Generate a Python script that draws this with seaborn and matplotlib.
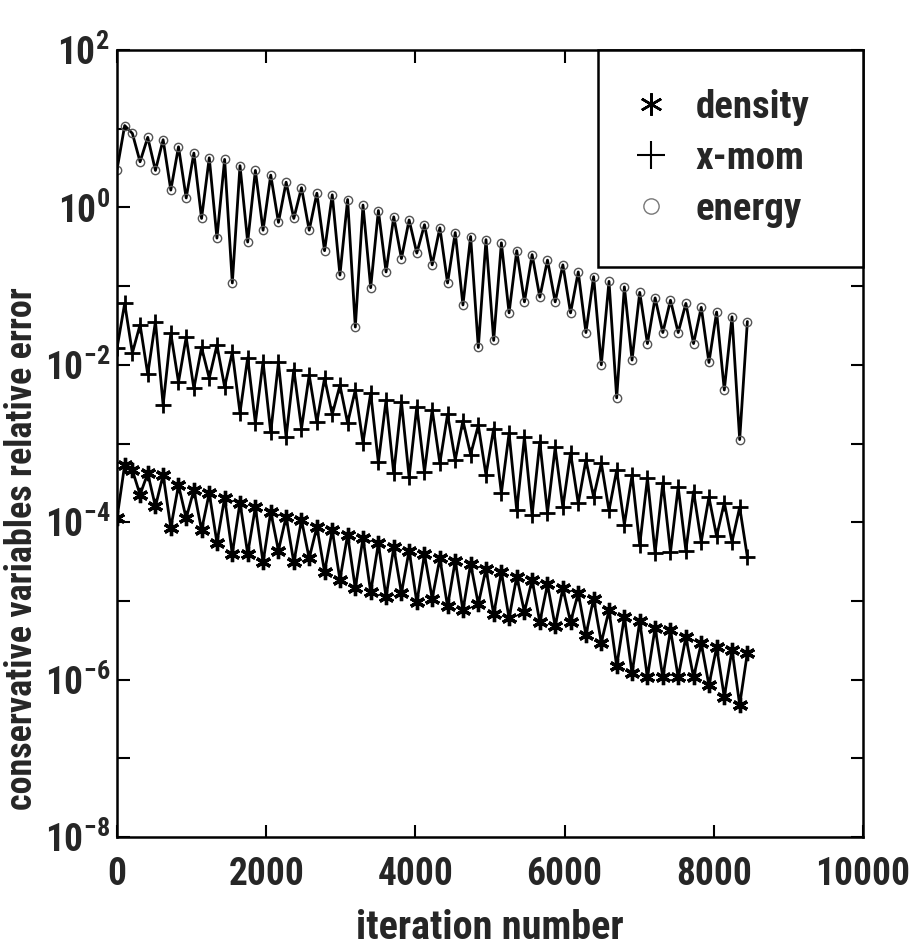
import numpy as np
import matplotlib
matplotlib.use("Agg")
import matplotlib.pyplot as plt
from matplotlib import font_manager
from matplotlib.lines import Line2D
import seaborn as sns

# ---------------- data (log10 of relative error) -------------
n_samples = 83
iterations = np.linspace(0, 8450, n_samples)  # output iterations (uniform interval)

energy_log10 = [
    0.48, 1.04, 0.94, 0.58, 0.89, 0.47, 0.86, 0.22, 0.77, 0.12,
    0.69, -0.14, 0.63, -0.39, 0.61, -0.96, 0.53, -0.44, 0.47, -0.29,
    0.41, -0.19, 0.32, -0.14, 0.25, -0.29, 0.18, -0.55, 0.16, -0.86,
    0.10, -1.52, 0.03, -1.02, -0.04, -0.82, -0.12, -0.65, -0.16, -0.58,
    -0.22, -0.73, -0.26, -0.96, -0.32, -1.24, -0.37, -1.78, -0.41, -1.69,
    -0.45, -1.34, -0.55, -1.20, -0.60, -1.14, -0.67, -1.20, -0.73, -1.34,
    -0.82, -1.59, -0.88, -2.00, -0.94, -2.42, -1.01, -1.94, -1.08, -1.73,
    -1.15, -1.59, -1.18, -1.59, -1.22, -1.73, -1.27, -1.97, -1.33, -2.32,
    -1.39, -2.95, -1.45,
]

xmom_log10 = [
    -1.79, -1.22, -1.85, -1.49, -2.12, -1.45, -2.51, -1.60, -2.22, -1.65,
    -2.30, -1.78, -2.17, -1.75, -2.28, -1.84, -2.61, -1.91, -2.74, -1.96,
    -2.86, -1.97, -2.92, -2.06, -2.81, -2.13, -2.73, -2.17, -2.63, -2.26,
    -2.74, -2.32, -2.99, -2.36, -3.24, -2.45, -3.38, -2.47, -3.43, -2.53,
    -3.36, -2.57, -3.25, -2.63, -3.21, -2.71, -3.14, -2.77, -3.40, -2.81,
    -3.63, -2.87, -3.85, -2.92, -3.91, -2.98, -3.88, -3.05, -3.81, -3.12,
    -3.76, -3.21, -3.68, -3.25, -3.85, -3.34, -4.03, -3.40, -4.29, -3.44,
    -4.39, -3.50, -4.38, -3.55, -4.36, -3.61, -4.25, -3.68, -4.18, -3.75,
    -4.25, -3.81, -4.44,
]

density_log10 = [
    -3.95, -3.27, -3.34, -3.65, -3.38, -3.80, -3.40, -4.07, -3.53, -3.95,
    -3.59, -4.10, -3.63, -4.26, -3.69, -4.40, -3.75, -4.40, -3.81, -4.51,
    -3.87, -4.36, -3.93, -4.51, -3.97, -4.46, -4.06, -4.63, -4.10, -4.73,
    -4.16, -4.84, -4.20, -4.89, -4.27, -4.95, -4.32, -4.90, -4.36, -5.02,
    -4.41, -4.97, -4.46, -5.07, -4.49, -5.12, -4.53, -5.04, -4.59, -5.17,
    -4.63, -5.22, -4.69, -5.14, -4.73, -5.27, -4.79, -5.32, -4.84, -5.27,
    -4.90, -5.43, -4.97, -5.53, -5.12, -5.83, -5.20, -5.92, -5.26, -5.97,
    -5.34, -5.97, -5.37, -5.97, -5.46, -5.97, -5.54, -6.07, -5.59, -6.22,
    -5.62, -6.32, -5.66,
]

series_names = ["density", "x-mom", "energy"]
x_ticks = [0, 2000, 4000, 6000, 8000, 10000]
y_exponents = list(range(-8, 3))
y_label_exponents = [-8, -6, -4, -2, 0, 2]

density = 10.0 ** np.array(density_log10)
xmom = 10.0 ** np.array(xmom_log10)
energy = 10.0 ** np.array(energy_log10)

# ---------------- style -------------
sns.set_style("ticks")
available = {f.name for f in font_manager.fontManager.ttflist}
family = None
for cand in ["Liberation Sans Narrow", "DejaVu Sans Condensed", "Roboto Condensed",
             "Open Sans Condensed", "Noto Sans Condensed"]:
    if cand in available:
        family = cand
        break
if family is None:
    family = "Liberation Sans"
    narrow = False
else:
    narrow = True
plt.rcParams["font.family"] = [family, "DejaVu Sans"]
plt.rcParams["mathtext.default"] = "regular"
plt.rcParams["font.weight"] = "bold"
plt.rcParams["axes.labelweight"] = "bold"

tick_fs = 27 if narrow else 24
label_fs = 27 if narrow else 22
legend_fs = 28 if narrow else 24

fig = plt.figure(figsize=(9.23, 9.52), dpi=100)
ax = fig.add_axes([117 / 923, 1 - 837 / 952, (863 - 117) / 923, (837 - 50) / 952])

asterisk = (6, 2, 0)
sns.lineplot(x=iterations, y=energy, ax=ax, color="black", lw=2.0,
             marker="o", markersize=6, markerfacecolor="none",
             markeredgecolor="#555555", markeredgewidth=1.0, estimator=None, sort=False)
sns.lineplot(x=iterations, y=xmom, ax=ax, color="black", lw=2.0,
             marker="+", markersize=11, markeredgewidth=2.0, markeredgecolor="black",
             estimator=None, sort=False)
sns.lineplot(x=iterations, y=density, ax=ax, color="black", lw=2.0,
             marker=asterisk, markersize=11, markeredgewidth=2.4, markeredgecolor="black",
             estimator=None, sort=False)

ax.set_yscale("log")
ax.set_xlim(0, 10000)
ax.set_ylim(1e-8, 1e2)

ax.set_xticks(x_ticks)
ax.set_xticklabels([str(t) for t in x_ticks])
ax.set_yticks([10.0 ** e for e in y_exponents])
ax.set_yticklabels([r"$10^{%d}$" % e if e in y_label_exponents else "" for e in y_exponents])
ax.yaxis.set_minor_locator(matplotlib.ticker.NullLocator())

ax.tick_params(axis="both", which="major", direction="in", length=9, width=1.5,
               top=True, right=True, labelsize=tick_fs, color="black")
ax.tick_params(axis="x", pad=14)
ax.tick_params(axis="y", pad=5)
for sp in ax.spines.values():
    sp.set_linewidth(1.8)
    sp.set_color("black")

ax.set_xlabel("iteration number", fontsize=label_fs + 2, va="center")
ax.xaxis.set_label_coords(0.5, -0.116)
ax.set_ylabel("conservative variables relative error", fontsize=label_fs - 1, va="center")
ax.yaxis.set_label_coords(-0.127, 0.367)

handles = [
    Line2D([], [], linestyle="none", marker=asterisk, markersize=16,
           markeredgewidth=1.8, color="black"),
    Line2D([], [], linestyle="none", marker="+", markersize=20,
           markeredgewidth=1.5, color="black"),
    Line2D([], [], linestyle="none", marker="o", markersize=11,
           markerfacecolor="none", markeredgecolor="#777777", markeredgewidth=1.0),
]
leg = ax.legend(handles, series_names, loc="upper left",
                bbox_to_anchor=(0.645, 0.0, 0.355, 1.0), mode="expand",
                fontsize=legend_fs, frameon=True, fancybox=False, borderaxespad=0.0,
                handletextpad=0.8, borderpad=1.0, labelspacing=0.36,
                handlelength=0.7)
leg.get_frame().set_edgecolor("black")
leg.get_frame().set_linewidth(1.8)
leg.get_frame().set_alpha(1.0)

fig.savefig("out.png", dpi=100, facecolor="white")
